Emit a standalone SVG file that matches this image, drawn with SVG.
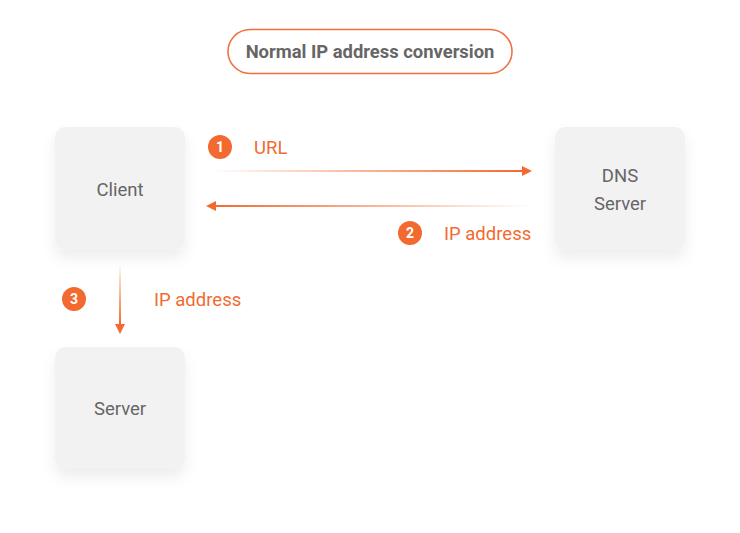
<svg xmlns="http://www.w3.org/2000/svg" width="740" height="533" viewBox="0 0 740 533">
<style>
.node{fill:#f2f2f2;filter:url(#sh)}
.nt{font-family:Roboto,"Liberation Sans",sans-serif;font-size:18.5px;fill:#666;text-anchor:middle}
.lb{font-family:Roboto,"Liberation Sans",sans-serif;font-size:18.5px;fill:#F26A30}
.num{font-family:Roboto,"Liberation Sans",sans-serif;font-size:14px;font-weight:bold;fill:#fff;text-anchor:middle}
.badge{fill:#F26A30}
</style>
<defs>
<filter id="sh" x="-30%" y="-30%" width="160%" height="170%">
<feDropShadow dx="0" dy="8" stdDeviation="7" flood-color="#000" flood-opacity="0.07"/>
</filter>
<linearGradient id="g1" x1="0" y1="0" x2="1" y2="0">
<stop offset="0" stop-color="#F26A30" stop-opacity="0"/>
<stop offset="1" stop-color="#F26A30"/>
</linearGradient>
<linearGradient id="g2" x1="0" y1="0" x2="1" y2="0">
<stop offset="0" stop-color="#F26A30"/>
<stop offset="1" stop-color="#F26A30" stop-opacity="0"/>
</linearGradient>
<linearGradient id="g3" x1="0" y1="0" x2="0" y2="1">
<stop offset="0" stop-color="#F26A30" stop-opacity="0"/>
<stop offset="1" stop-color="#F26A30"/>
</linearGradient>
</defs>
<rect width="740" height="533" fill="#fff"/>
<g id="title">
<rect x="228" y="29.5" width="284" height="44" rx="22" fill="#fff" stroke="#F07040" stroke-width="1.6"/>
<text x="370" y="57.5" font-family="Roboto,'Liberation Sans',sans-serif" font-size="18.4" font-weight="bold" fill="#666" text-anchor="middle">Normal IP address conversion</text>
</g>
<g id="client">
<rect class="node" x="55" y="127" width="130" height="123" rx="10"/>
<text class="nt" x="120" y="195.5">Client</text>
</g>
<g id="dns">
<rect class="node" x="555" y="127" width="130" height="123" rx="10"/>
<text class="nt" x="620" y="182">DNS</text>
<text class="nt" x="620" y="210">Server</text>
</g>
<g id="server">
<rect class="node" x="55" y="347" width="130" height="122" rx="10"/>
<text class="nt" x="120" y="414.5">Server</text>
</g>
<g id="connectors">
<rect x="210" y="170" width="313" height="2" fill="url(#g1)"/>
<polygon points="522,166 532,171 522,176" fill="#F26A30"/>
<rect x="215" y="205" width="315" height="2" fill="url(#g2)"/>
<polygon points="216,201 206,206 216,211" fill="#F26A30"/>
<rect x="119" y="263" width="2" height="62" fill="url(#g3)"/>
<polygon points="115,324 120,334 125,324" fill="#F26A30"/>
</g>
<g id="labels">
<circle class="badge" cx="220" cy="147" r="12"/>
<text class="num" x="220" y="152">1</text>
<text class="lb" x="254" y="153.5">URL</text>
<circle class="badge" cx="410" cy="233" r="12"/>
<text class="num" x="410" y="238">2</text>
<text class="lb" x="444" y="239.5">IP address</text>
<circle class="badge" cx="74" cy="299" r="12"/>
<text class="num" x="74" y="304">3</text>
<text class="lb" x="154" y="305.5">IP address</text>
</g>
</svg>
